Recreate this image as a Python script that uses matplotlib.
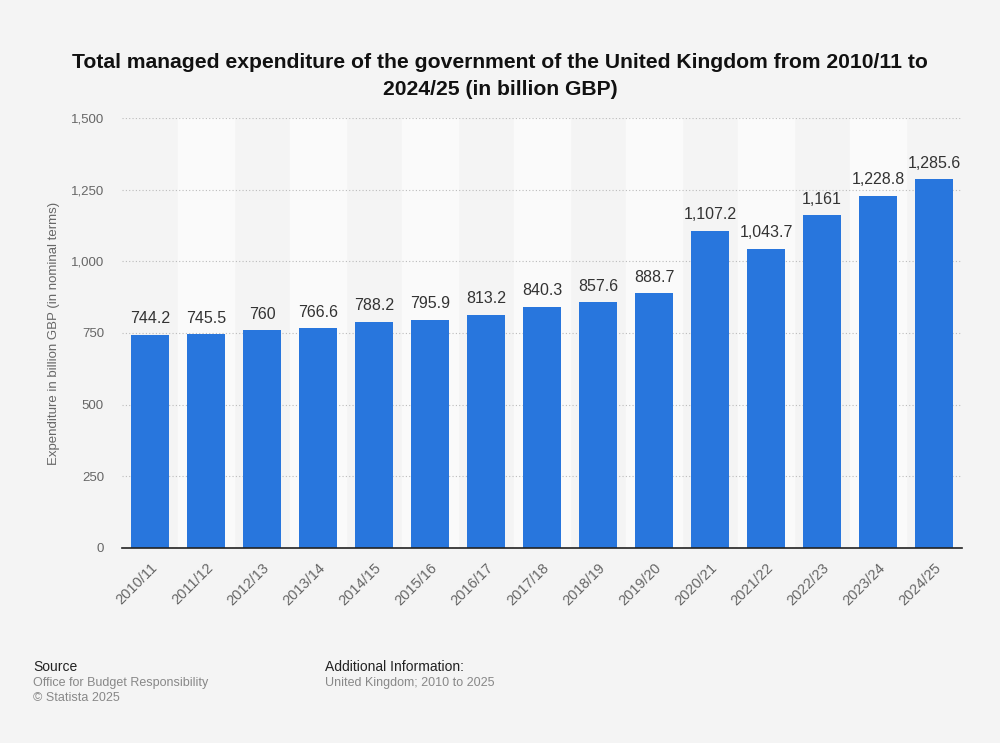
import matplotlib.pyplot as plt

plt.rcParams['font.family'] = ['Liberation Sans', 'DejaVu Sans']

years = ['2010/11', '2011/12', '2012/13', '2013/14', '2014/15', '2015/16', '2016/17',
         '2017/18', '2018/19', '2019/20', '2020/21', '2021/22', '2022/23', '2023/24', '2024/25']
spending = [744.2, 745.5, 760, 766.6, 788.2, 795.9, 813.2, 840.3, 857.6, 888.7,
            1107.2, 1043.7, 1161, 1228.8, 1285.6]
labels = ['744.2', '745.5', '760', '766.6', '788.2', '795.9', '813.2', '840.3', '857.6', '888.7',
          '1,107.2', '1,043.7', '1,161', '1,228.8', '1,285.6']
yticks = [0, 250, 500, 750, 1000, 1250, 1500]

bg = '#f4f4f4'
fig = plt.figure(figsize=(10, 7.43), dpi=100, facecolor=bg)
ax = fig.add_axes([0.122, 0.2625, 0.840, 0.5787])
ax.set_facecolor(bg)

x = list(range(len(years)))
# alternating column shading
for i in x:
    if i % 2 == 1:
        ax.axvspan(i - 0.5, i + 0.5, color='#fafafa', zorder=0)

ax.bar(x, spending, width=0.69, color='#2876dd', zorder=3)
for xi, v, t in zip(x, spending, labels):
    ax.text(xi, v + 30, t, ha='center', va='bottom', fontsize=11.5, color='#333333', zorder=4)

ax.set_xlim(-0.5, len(years) - 0.5)
ax.set_ylim(0, 1500)
ax.set_yticks(yticks)
ax.set_yticklabels([f'{t:,}' for t in yticks])
ax.set_xticks(x)
ax.set_xticklabels(years, rotation=45, ha='right', rotation_mode='anchor')
ax.tick_params(axis='y', length=0, labelsize=9.5, colors='#666666', pad=13)
ax.tick_params(axis='x', length=0, labelsize=10.5, colors='#666666', pad=9)
ax.grid(axis='y', color='#bbbbbb', linestyle=(0, (1, 2)), linewidth=0.8, zorder=1)
for s in ['top', 'right', 'left']:
    ax.spines[s].set_visible(False)
ax.spines['bottom'].set_color('#222222')
ax.spines['bottom'].set_linewidth(1.2)
ax.spines['bottom'].set_zorder(5)

ax.set_ylabel('Expenditure in billion GBP (in nominal terms)', fontsize=9.5, color='#666666', labelpad=7.5)

fig.text(0.5, 0.898, 'Total managed expenditure of the government of the United Kingdom from 2010/11 to\n2024/25 (in billion GBP)',
         ha='center', va='center', fontsize=15.2, fontweight='bold', color='#111111', linespacing=1.55)

fig.text(0.033, 0.097, 'Source', fontsize=10, color='#222222')
fig.text(0.033, 0.089, 'Office for Budget Responsibility\n© Statista 2025', fontsize=9, color='#888888',
         va='top', linespacing=1.4)
fig.text(0.325, 0.097, 'Additional Information:', fontsize=10, color='#222222')
fig.text(0.325, 0.089, 'United Kingdom; 2010 to 2025', fontsize=9, color='#888888', va='top')

fig.savefig('out.png', dpi=100, facecolor=bg)
